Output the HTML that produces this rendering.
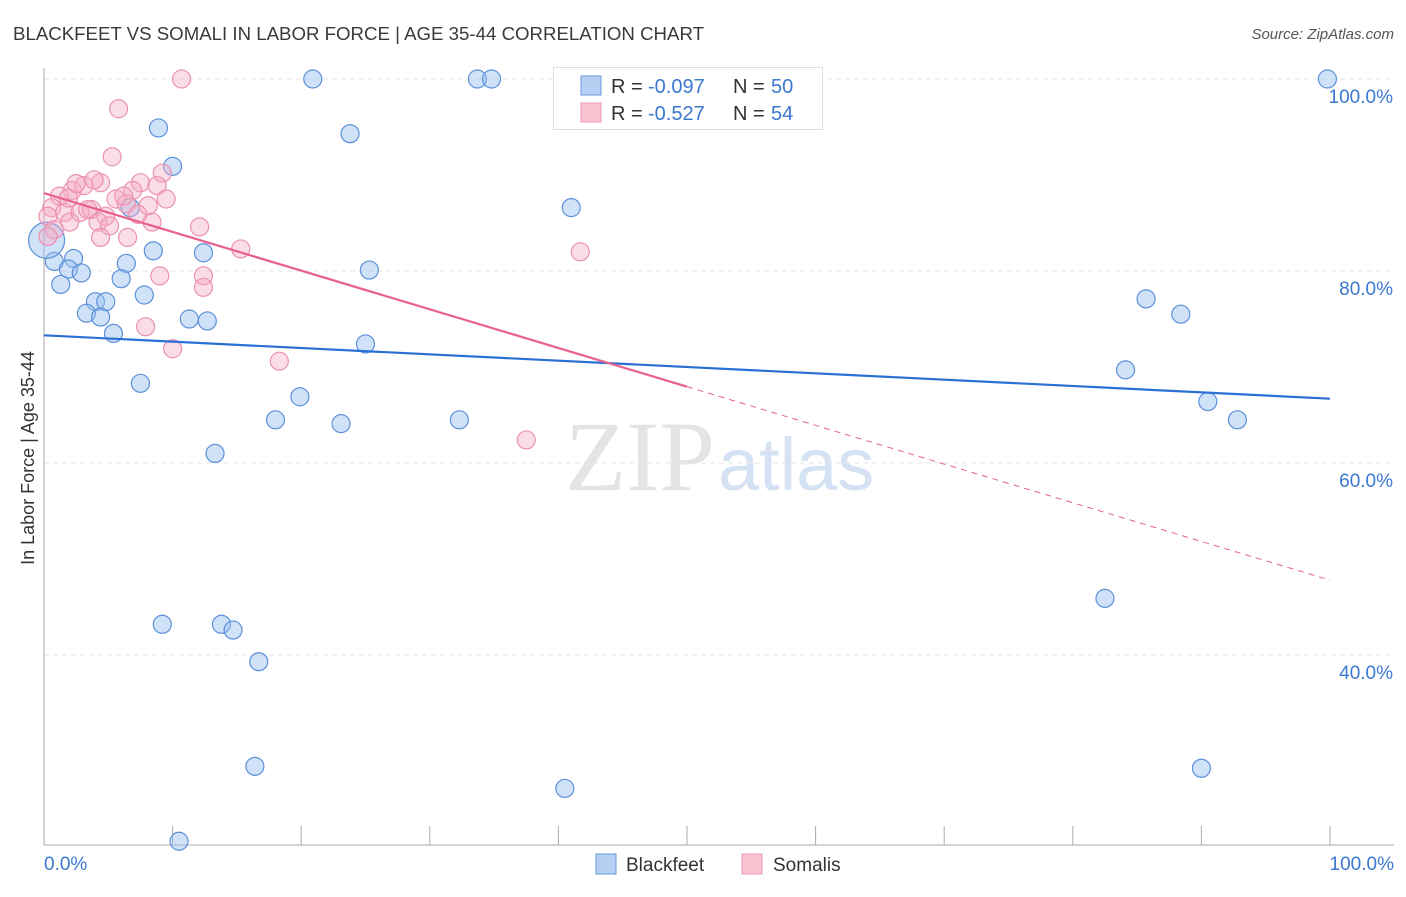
<!DOCTYPE html>
<html><head><meta charset="utf-8"><style>
body{margin:0;background:#fff;font-family:"Liberation Sans",sans-serif;}
</style></head><body>
<svg id="chart" width="1406" height="892" xmlns="http://www.w3.org/2000/svg" font-family="Liberation Sans, sans-serif">
<text x="13" y="40" font-size="18" fill="#3a3a3a" textLength="691" lengthAdjust="spacingAndGlyphs">BLACKFEET VS SOMALI IN LABOR FORCE | AGE 35-44 CORRELATION CHART</text>
<text x="1394" y="39" font-size="15" fill="#555" text-anchor="end" font-style="italic">Source: ZipAtlas.com</text>
<text transform="translate(34,458) rotate(-90)" font-size="18" fill="#333" text-anchor="middle">In Labor Force | Age 35-44</text>
<text x="715" y="490" font-size="100" fill="#e4e4e4" text-anchor="end" font-family="Liberation Serif, serif">ZIP</text>
<text x="718" y="490" font-size="74" fill="#d4e2f4">atlas</text>
<g id="grid"></g><g id="axes"></g><g id="pts"></g><g id="lines"></g>
<g font-size="20">
<rect x="553.5" y="67.5" width="269" height="62" fill="#fff" stroke="#ddd"/>
<rect x="581" y="76" width="20" height="19" fill="#b5d0f3" stroke="#6a9ad8"/>
<rect x="581" y="103" width="20" height="19" fill="#f9c3d1" stroke="#ec9ab4"/>
<text x="611" y="93" fill="#333">R =</text><text x="648" y="93" fill="#3b78d0">-0.097</text>
<text x="733" y="93" fill="#333">N =</text><text x="771" y="93" fill="#3b78d0">50</text>
<text x="611" y="120" fill="#333">R =</text><text x="648" y="120" fill="#3b78d0">-0.527</text>
<text x="733" y="120" fill="#333">N =</text><text x="771" y="120" fill="#3b78d0">54</text>
</g>
<g>
<rect x="596" y="854" width="20" height="20" fill="#b5d0f3" stroke="#6a9ad8"/>
<text x="626" y="871" font-size="19" fill="#333">Blackfeet</text>
<rect x="742" y="854" width="20" height="20" fill="#f9c3d1" stroke="#ec9ab4"/>
<text x="773" y="871" font-size="19" fill="#333">Somalis</text>
</g>
</svg>
<script>
const blueX=[20.9,33.7,34.8,99.8,8.9,23.8,10.0,41.0,6.7,8.5,12.4,0.8,2.3,1.9,2.9,6.4,25.3,1.3,6.0,7.8,4.0,4.8,3.3,4.4,11.3,12.7,5.4,25.0,7.5,19.9,18.0,23.1,32.3,13.3,85.7,88.4,84.1,90.5,92.8,82.5,9.2,13.8,14.7,16.7,16.4,40.5,90.0,10.5];
const blueY=[100,100,100,100,94.9,94.3,90.9,86.6,86.6,82.1,81.9,81.0,81.3,80.2,79.8,80.8,80.1,78.6,79.2,77.5,76.8,76.8,75.6,75.2,75.0,74.8,73.5,72.4,68.3,66.9,64.5,64.1,64.5,61.0,77.1,75.5,69.7,66.4,64.5,45.9,43.2,43.2,42.6,39.3,28.4,26.1,28.2,20.6];
const pinkX=[10.7,5.8,5.3,9.2,4.4,7.5,8.8,2.2,3.1,1.2,6.9,9.5,5.6,6.4,8.1,0.6,1.6,2.8,3.7,4.8,7.3,8.4,2.0,4.2,5.1,12.1,6.5,4.4,0.3,0.8,15.3,41.7,9.0,12.4,12.4,7.9,10.0,18.3,37.5,0.3,3.4,2.5,1.9,6.2,3.9];
const pinkY=[100,96.9,91.9,90.2,89.2,89.2,88.9,88.4,88.9,87.8,88.4,87.5,87.5,87.0,86.8,86.6,86.1,86.1,86.4,85.7,85.9,85.1,85.1,85.1,84.7,84.6,83.5,83.5,85.7,84.3,82.3,82.0,79.5,79.5,78.3,74.2,71.9,70.6,62.4,83.6,86.4,89.1,87.6,87.8,89.5];
const yTicks=[100,80,60,40];
const blueTrend=[73.3,66.7];
const pinkTrend=[88.1,47.8];
const NS="http://www.w3.org/2000/svg";
const sx=v=>44+v*12.86, sy=v=>1039-v*9.6;
function mk(tag,attrs,parent){const e=document.createElementNS(NS,tag);for(const k in attrs)e.setAttribute(k,attrs[k]);document.getElementById(parent).appendChild(e);return e;}
yTicks.forEach(t=>{
 const g=mk('line',{x1:44,x2:1394,y1:sy(t),y2:sy(t),stroke:'#e6e6e6','stroke-dasharray':'5,4'},'grid');
 
 
 const l=mk('text',{x:1393,y:sy(t)+24,'font-size':19,fill:'#3b78d0','text-anchor':'end'},'axes');l.textContent=t.toFixed(1)+'%';
 
 
});
mk('line',{x1:44,x2:44,y1:68,y2:845,stroke:'#aaa'},'axes');
mk('line',{x1:44,x2:1394,y1:845,y2:845,stroke:'#aaa'},'axes');
for(let i=0;i<=10;i++){const t=mk('line',{x1:sx(i*10),x2:sx(i*10),y1:826,y2:845,stroke:'#aaa'},'axes');
 
 }
let a=mk('text',{x:44,y:870,'font-size':19,fill:'#3b78d0'},'axes');a.textContent='0.0%';


a=mk('text',{x:1394,y:870,'font-size':19,fill:'#3b78d0','text-anchor':'end'},'axes');a.textContent='100.0%';


blueX.forEach((x,i)=>{const c=mk('circle',{cx:sx(x),cy:sy(blueY[i]),r:9,fill:'rgba(150,190,240,0.45)',stroke:'#5b90da','stroke-width':1.2},'pts');
 
 });
const big=mk('circle',{cx:sx(0.2),cy:sy(83.2),r:18,fill:'rgba(150,190,240,0.45)',stroke:'#5b90da','stroke-width':1.2},'pts');


pinkX.forEach((x,i)=>{const c=mk('circle',{cx:sx(x),cy:sy(pinkY[i]),r:9,fill:'rgba(245,170,195,0.4)',stroke:'#eb92b0','stroke-width':1.2},'pts');
 
 });
let ln=mk('line',{x1:sx(0),y1:sy(blueTrend[0]),x2:sx(100),y2:sy(blueTrend[1]),stroke:'#2a6fd4','stroke-width':2.2},'lines');


const pm=pinkTrend[0]+(pinkTrend[1]-pinkTrend[0])*0.5;
ln=mk('line',{x1:sx(0),y1:sy(pinkTrend[0]),x2:sx(50),y2:sy(pm),stroke:'#e8608e','stroke-width':2.2},'lines');


ln=mk('line',{x1:sx(50),y1:sy(pm),x2:sx(100),y2:sy(pinkTrend[1]),stroke:'#e8608e','stroke-width':1,'stroke-dasharray':'6,5'},'lines');


</script>
</body></html>
